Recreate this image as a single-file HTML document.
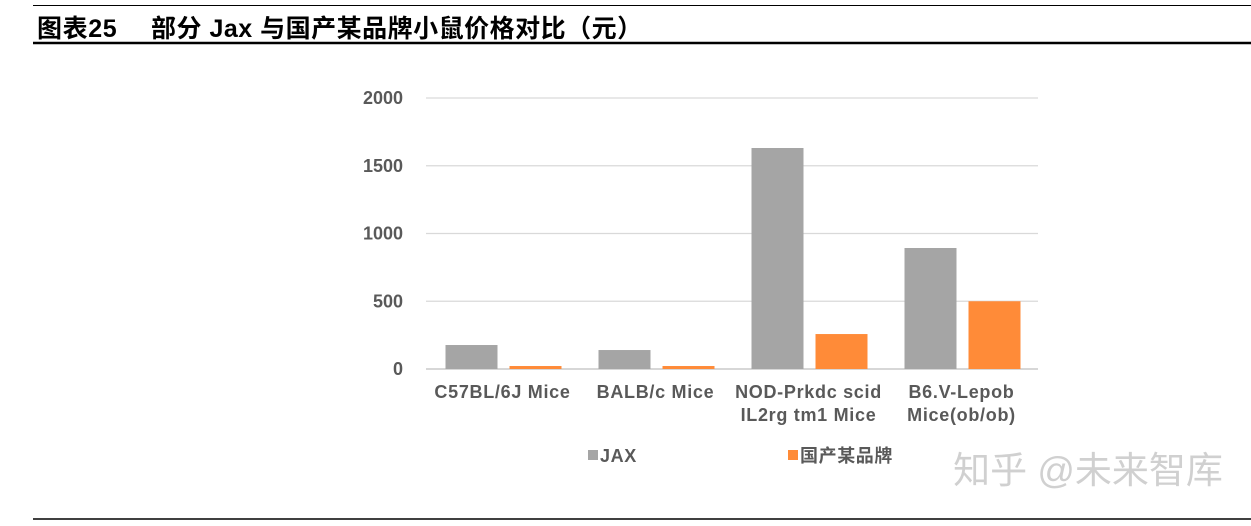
<!DOCTYPE html>
<html><head><meta charset="utf-8"><style>
body{margin:0;background:#fff;width:1251px;height:521px;overflow:hidden;font-family:"Liberation Sans","Noto Sans CJK SC",sans-serif}
svg text{font-family:"Liberation Sans","Noto Sans CJK SC",sans-serif}
</style></head><body>
<svg width="1251" height="521">
<line x1="33" y1="5.5" x2="1251" y2="5.5" stroke="#000" stroke-width="1"/>
<text x="37" y="37" font-size="25" font-weight="bold" letter-spacing="0.6" fill="#000">图表25</text>
<text x="151" y="37" font-size="25" font-weight="bold" letter-spacing="0.5" fill="#000">部分 Jax 与国产某品牌小鼠价格对比（元）</text>
<line x1="33" y1="43" x2="1251" y2="43" stroke="#000" stroke-width="2.5"/>
<g id="plot"></g>
<text x="1088" y="483" font-size="37" fill="#d0d0d0" text-anchor="middle">知乎 @未来智库</text>
<line x1="33" y1="519" x2="1251" y2="519" stroke="#000" stroke-width="1.5"/>
</svg>
<script>
const categories=[["C57BL/6J Mice"],["BALB/c Mice"],["NOD-Prkdc scid","IL2rg tm1 Mice"],["B6.V-Lepob","Mice(ob/ob)"]];
const jaxValues=[177,140,1631,893];
const domesticValues=[22,22,258,500];
const yTicks=[0,500,1000,2000,1500];
const seriesNames=["JAX","国产某品牌"];
const NS="http://www.w3.org/2000/svg";
const g=document.getElementById('plot');
const x0=426,x1=1038,y0=369,yTop=98,yMax=2000;
const y=v=>y0-(v/yMax)*(y0-yTop);
const bw=(x1-x0)/categories.length;
function mk(t,a){const e=document.createElementNS(NS,t);for(const k in a)e.setAttribute(k,a[k]);g.appendChild(e);return e;}
yTicks.forEach(v=>{
 const l=mk('line',{x1:x0,x2:x1,y1:y(v),y2:y(v),stroke:v===0?'#bfbfbf':'#d9d9d9','stroke-width':1.2});
 
 
 const t=mk('text',{x:403,y:y(v)+6,'text-anchor':'end','font-size':18,'font-weight':'bold',fill:'#595959'});
 t.textContent=v;
 
 
});
categories.forEach((c,i)=>{
 const cx=x0+bw*(i+0.5);
 const a=mk('rect',{x:cx-57,y:y(jaxValues[i]),width:52,height:y0-y(jaxValues[i]),fill:'#a5a5a5'});
 
 
 const b=mk('rect',{x:cx+7,y:y(domesticValues[i]),width:52,height:y0-y(domesticValues[i]),fill:'#ff8b38'});
 
 
 c.forEach((line,j)=>{
  const t=mk('text',{x:cx,y:398+j*23,'text-anchor':'middle','font-size':18,'letter-spacing':0.7,'font-weight':'bold',fill:'#595959'});
  t.textContent=line;
  
  
 });
});
const legX=[588,788],legC=['#a5a5a5','#ff8b38'];
seriesNames.forEach((n,i)=>{
 const r=mk('rect',{x:legX[i],y:450,width:10,height:10,fill:legC[i]});
 
 
 const t=mk('text',{x:legX[i]+12,y:462,'font-size':18,'letter-spacing':0.6,'font-weight':'bold',fill:'#595959'});
 t.textContent=n;
 
 
});
</script>
</body></html>
